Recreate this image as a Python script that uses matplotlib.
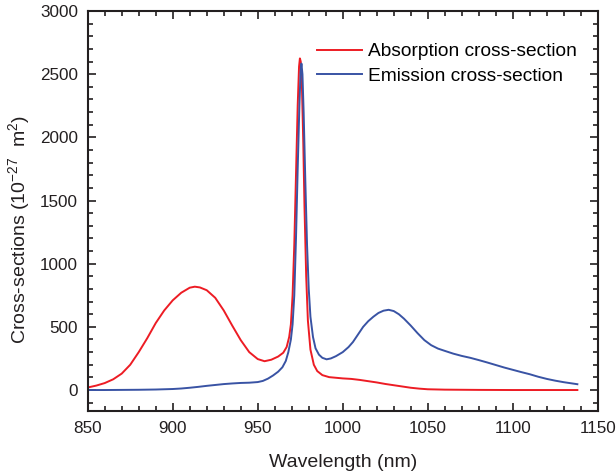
import matplotlib
matplotlib.use("Agg")
import matplotlib.pyplot as plt
from matplotlib.ticker import MultipleLocator

plt.rcParams['font.family'] = ['Liberation Sans', 'DejaVu Sans']
plt.rcParams['mathtext.default'] = 'regular'

abs_wl = [850, 855, 860, 865, 870, 875, 880, 885, 890, 895, 900, 905, 910, 913, 916, 920, 925, 930, 935, 940,
          945, 950, 954, 958, 962, 965, 967, 968.5, 969.5, 970.5, 971.5, 972.5, 973.5, 974.3, 974.8, 975.3,
          976, 976.8, 977.5, 978.5, 979.5, 981, 983, 985, 988, 992, 1000, 1005, 1010, 1015, 1020, 1025,
          1030, 1035, 1040, 1045, 1050, 1060, 1080, 1100, 1138]
abs_val = [20, 35, 55, 85, 130, 200, 300, 410, 530, 630, 710, 770, 810, 818, 812, 790, 730, 630, 510, 395,
           300, 245, 228, 240, 265, 295, 340, 420, 520, 750, 1150, 1700, 2250, 2560, 2625, 2600,
           2400, 1950, 1450, 900, 550, 320, 200, 150, 118, 102, 92, 88, 80, 70, 60, 48,
           38, 28, 18, 11, 6, 3, 1, 0, 0]

emi_wl = [850, 860, 870, 880, 890, 900, 905, 910, 915, 920, 925, 930, 935, 940, 945, 950, 953, 956, 959, 962,
          964.5, 966.5, 968, 969.5, 970.5, 971.5, 972.5, 973.5, 974.5, 975.2, 975.7, 976.3, 977, 978, 979,
          980, 981, 982.5, 984, 986, 988, 990.5, 993, 996, 1000, 1003.4, 1006, 1009, 1012, 1015, 1018, 1021,
          1024, 1027, 1030, 1033, 1036, 1040, 1044, 1048, 1052, 1056, 1060, 1065, 1070, 1075, 1080, 1085,
          1090, 1095, 1100, 1105, 1110, 1115, 1120, 1125, 1130, 1135, 1138]
emi_val = [0, 0, 1, 2, 4, 8, 12, 18, 25, 33, 40, 47, 52, 56, 58, 63, 72, 90, 115, 145,
           180, 230, 300, 400, 520, 750, 1200, 1750, 2250, 2520, 2584, 2500, 2200, 1650, 1150,
           800, 580, 420, 330, 280, 255, 243, 250, 268, 300, 340, 380, 440, 500, 545, 580, 610,
           628, 635, 625, 600, 565, 510, 450, 395, 355, 328, 310, 288, 270, 255, 237, 218,
           198, 178, 160, 142, 125, 105, 88, 74, 62, 52, 46]

RED = '#ED1C24'
BLUE = '#3953A4'

fig = plt.figure(figsize=(6.16, 4.71), dpi=100)
ax = fig.add_axes([0.1424, 0.1274, 0.828, 0.8492])

ax.plot(abs_wl, abs_val, color=RED, lw=1.4, label='Absorption cross-section')
ax.plot(emi_wl, emi_val, color=BLUE, lw=1.4, label='Emission cross-section')

ax.set_xlim(850, 1150)
ax.set_ylim(-166, 3000)
ax.xaxis.set_major_locator(MultipleLocator(50))
ax.xaxis.set_minor_locator(MultipleLocator(10))
ax.yaxis.set_major_locator(MultipleLocator(500))
ax.yaxis.set_minor_locator(MultipleLocator(100))

ax.tick_params(which='both', direction='in', top=True, right=True, width=1.2, labelsize=12.3, colors='#231F20')
ax.tick_params(which='major', length=6, pad=7)
ax.tick_params(which='minor', length=3.5)
for s in ax.spines.values():
    s.set_linewidth(1.5)
    s.set_color('#231F20')

ax.set_xlabel('Wavelength (nm)', fontsize=14, color='#231F20', labelpad=13)
ax.set_ylabel('Cross-sections (10$^{-27}$  m$^{2}$)', fontsize=14, color='#231F20')
ax.yaxis.set_label_coords(-0.109, 0.455)

ax.legend(loc='upper left', frameon=False, fontsize=13.8, handlelength=2.35, handletextpad=0.3,
          labelspacing=0.36, borderpad=0, borderaxespad=0, bbox_to_anchor=(0.449, 0.92))

fig.savefig('out.png', dpi=100)
